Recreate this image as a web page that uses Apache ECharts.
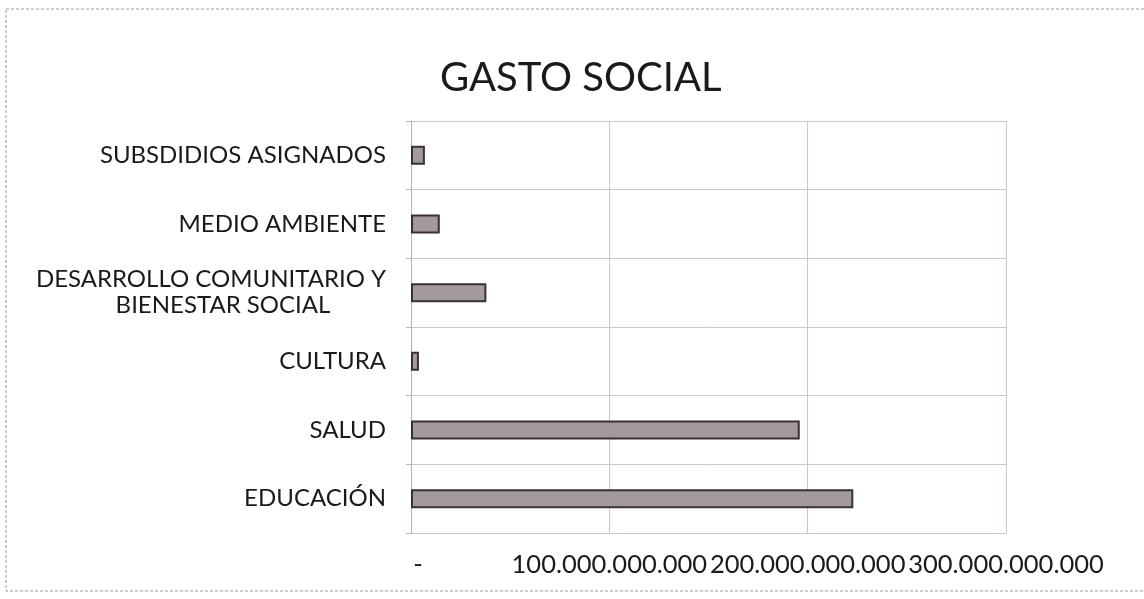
<!DOCTYPE html>
<html>
<head>
<meta charset="utf-8">
<script src="https://cdn.jsdelivr.net/npm/echarts@6/dist/echarts.min.js"></script>
<style>
html,body{margin:0;padding:0;background:#fff;}
#chart{width:1144px;height:599px;}
</style>
</head>
<body>
<div id="chart"></div>
<script>
const titleText = 'GASTO SOCIAL';
const categories = ['EDUCACIÓN', 'SALUD', 'CULTURA', 'DESARROLLO COMUNITARIO Y BIENESTAR SOCIAL', 'MEDIO AMBIENTE', 'SUBSDIDIOS ASIGNADOS'];
const values = [223e9, 196e9, 4e9, 38e9, 14.5e9, 7e9];
const xTicks = [0, 100e9, 200e9, 300e9];

const FONT = 'Lato';
function fmtNum(v) {
  if (v === 0) return '{d|-}';
  return String(Math.round(v)).replace(/\B(?=(\d{3})+(?!\d))/g, '.');
}

const chart = echarts.init(document.getElementById('chart'), null, {renderer: 'canvas'});
chart.setOption({
  backgroundColor: '#ffffff',
  animation: false,
  title: {
    text: titleText,
    left: 435,
    top: 53,
    textStyle: {fontFamily: FONT, fontSize: 40, fontWeight: 'normal', color: '#1a1a1a'}
  },
  graphic: [{
    type: 'rect',
    shape: {x: 6, y: 9, width: 1160, height: 582},
    style: {fill: null, stroke: '#9a9a9a', lineWidth: 1, lineDash: [3, 2]},
    silent: true
  }],
  grid: {left: 411, right: 138, top: 121, bottom: 66, containLabel: false},
  xAxis: {
    type: 'value',
    min: xTicks[0],
    max: xTicks[xTicks.length - 1],
    interval: xTicks[1] - xTicks[0],
    axisLine: {show: true, lineStyle: {color: '#d2c3c7', width: 1}},
    axisTick: {show: false},
    splitLine: {show: true, lineStyle: {color: '#d2c3c7', width: 1}},
    axisLabel: {
      margin: 19,
      fontFamily: FONT, fontSize: 25.5, color: '#1a1a1a',
      formatter: fmtNum,
      rich: {d: {fontFamily: FONT, fontSize: 25.5, color: '#1a1a1a', padding: [0, 0, 0, 14]}}
    }
  },
  yAxis: {
    type: 'category',
    data: categories,
    axisLine: {show: true, lineStyle: {color: '#bfb0b4', width: 1}},
    axisTick: {show: true, length: 5, lineStyle: {color: '#bfb0b4'}},
    splitLine: {show: true, lineStyle: {color: '#d2c3c7', width: 1}},
    axisLabel: {
      margin: 25,
      fontFamily: FONT, fontSize: 24, color: '#1a1a1a',
      formatter: function (v) {
        if (v.indexOf('DESARROLLO') === 0) {
          return '{c|DESARROLLO COMUNITARIO Y}\n{e|BIENESTAR SOCIAL}';
        }
        return v;
      },
      rich: {
        c: {fontFamily: FONT, fontSize: 24, color: '#1a1a1a', width: 374, align: 'right', lineHeight: 26},
        e: {fontFamily: FONT, fontSize: 24, color: '#1a1a1a', width: 326, align: 'center', lineHeight: 26, padding: [0, 0, 0, 48]}
      }
    }
  },
  series: [{
    type: 'bar',
    data: values,
    barWidth: 19,
    itemStyle: {color: '#a39a9e', borderColor: '#3a3135', borderWidth: 2}
  }]
});
</script>
</body>
</html>
